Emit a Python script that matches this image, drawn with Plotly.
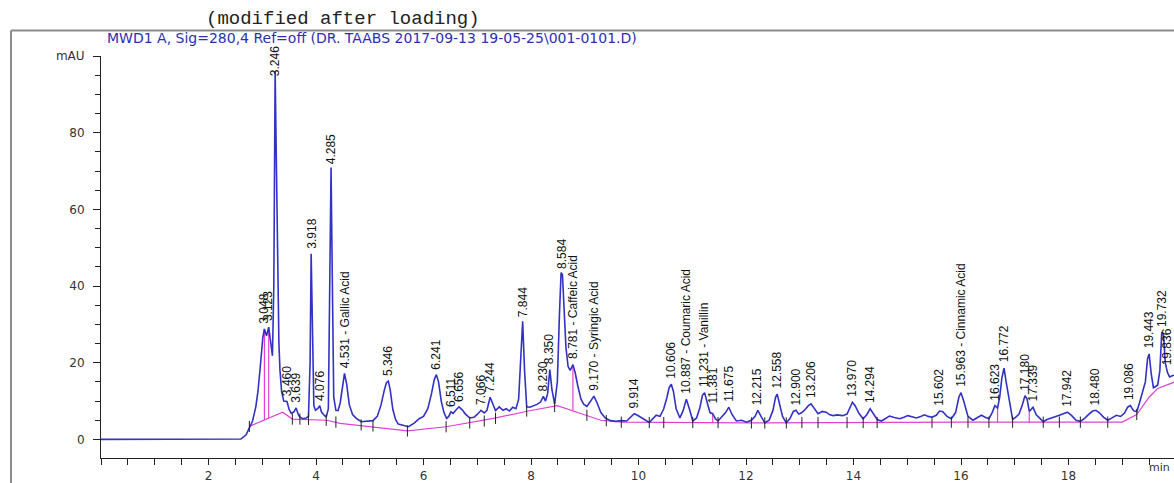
import plotly.graph_objects as go

# ---------------- data ----------------
time_min = [
    0.0, 2.60, 2.70, 2.76, 2.82, 2.88, 2.92, 2.97, 3.01, 3.04, 3.08, 3.12, 3.16, 3.19, 3.215, 3.24,
    3.265, 3.29, 3.31, 3.33, 3.36, 3.40, 3.46, 3.50, 3.54, 3.59, 3.63, 3.67, 3.70, 3.76, 3.82, 3.86,
    3.89, 3.91, 3.935, 3.96, 3.99, 4.03, 4.07, 4.10, 4.14, 4.19, 4.23, 4.255, 4.28, 4.305, 4.33, 4.37,
    4.41, 4.45, 4.49, 4.53, 4.57, 4.62, 4.68, 4.75, 4.84, 4.95, 5.06, 5.14, 5.21, 5.27, 5.31, 5.345,
    5.38, 5.43, 5.48, 5.53, 5.62, 5.72, 5.82, 5.92, 6.00, 6.08, 6.15, 6.20, 6.24, 6.28, 6.33, 6.38,
    6.43, 6.47, 6.51, 6.55, 6.60, 6.66, 6.72, 6.78, 6.86, 6.94, 7.00, 7.07, 7.13, 7.18, 7.24, 7.29,
    7.34, 7.41, 7.48, 7.54, 7.60, 7.66, 7.72, 7.77, 7.81, 7.845, 7.88, 7.92, 7.98, 8.05, 8.12, 8.18,
    8.23, 8.27, 8.31, 8.35, 8.39, 8.44, 8.49, 8.53, 8.56, 8.585, 8.61, 8.65, 8.69, 8.73, 8.78, 8.82,
    8.87, 8.93, 8.98, 9.04, 9.10, 9.17, 9.23, 9.30, 9.38, 9.48, 9.58, 9.68, 9.78, 9.86, 9.92, 9.98,
    10.06, 10.14, 10.20, 10.26, 10.33, 10.40, 10.47, 10.53, 10.57, 10.61, 10.65, 10.70, 10.77, 10.83, 10.89, 10.95,
    11.01, 11.08, 11.14, 11.19, 11.23, 11.28, 11.33, 11.38, 11.43, 11.48, 11.55, 11.62, 11.68, 11.74, 11.82, 11.92,
    12.01, 12.10, 12.17, 12.22, 12.28, 12.35, 12.43, 12.50, 12.55, 12.58, 12.62, 12.68, 12.75, 12.82, 12.88, 12.93,
    12.98, 13.04, 13.10, 13.16, 13.21, 13.27, 13.34, 13.42, 13.49, 13.56, 13.62, 13.70, 13.80, 13.88, 13.94, 13.98,
    14.03, 14.10, 14.18, 14.25, 14.31, 14.37, 14.44, 14.52, 14.60, 14.67, 14.76, 14.86, 14.94, 15.01, 15.09, 15.17,
    15.25, 15.32, 15.39, 15.46, 15.54, 15.60, 15.66, 15.74, 15.82, 15.90, 15.96, 16.00, 16.05, 16.13, 16.22, 16.30,
    16.38, 16.45, 16.52, 16.58, 16.63, 16.68, 16.72, 16.76, 16.80, 16.84, 16.90, 16.96, 17.02, 17.08, 17.14, 17.19,
    17.23, 17.27, 17.34, 17.40, 17.46, 17.53, 17.60, 17.67, 17.75, 17.83, 17.91, 17.98, 18.06, 18.14, 18.22, 18.30,
    18.38, 18.45, 18.51, 18.57, 18.65, 18.73, 18.81, 18.89, 18.97, 19.04, 19.10, 19.15, 19.21, 19.27, 19.32, 19.38,
    19.43, 19.47, 19.50, 19.54, 19.58, 19.62, 19.66, 19.70, 19.735, 19.77, 19.80, 19.84, 19.88, 19.93, 19.98,
]
signal_mau = [
    0.0, 0.1, 1.2, 3.0, 4.8, 8.5, 12.5, 20.0, 26.5, 28.8, 27.0, 29.3, 25.0, 21.8, 40.0, 96.0,
    70.0, 40.0, 25.0, 18.0, 12.5, 10.0, 9.9, 7.8, 6.8, 7.2, 8.2, 6.5, 5.8, 5.4, 5.6, 6.0,
    20.0, 48.4, 25.0, 8.8, 7.6, 8.0, 8.8, 7.2, 6.5, 5.8, 8.0, 40.0, 70.9, 40.0, 11.0, 7.6,
    7.5, 9.5, 14.0, 17.2, 14.5, 9.0, 6.5, 5.5, 4.6, 4.8, 4.9, 6.0, 9.0, 12.8, 14.8, 15.2,
    13.0, 7.8, 5.2, 4.0, 3.6, 3.3, 4.2, 5.4, 6.0, 8.0, 12.0, 15.6, 16.9, 15.0, 10.0, 7.0,
    5.5, 6.0, 7.2, 6.8, 7.6, 8.5, 7.7, 6.6, 5.6, 5.8, 6.5, 7.6, 6.9, 7.6, 11.0, 9.0,
    7.5, 8.5, 7.6, 8.0, 7.4, 8.4, 8.0, 10.5, 22.0, 30.8, 18.0, 8.5, 8.4, 8.8, 9.2, 9.8,
    11.2, 10.0, 12.0, 18.2, 13.0, 9.2, 15.0, 33.0, 43.5, 43.0, 36.0, 24.0, 19.0, 18.0, 19.5, 17.5,
    14.0, 10.5, 9.2, 8.6, 9.8, 11.3, 9.5, 7.0, 5.6, 4.9, 4.7, 4.9, 4.8, 6.0, 6.7, 6.3,
    5.6, 5.0, 4.4, 5.3, 6.3, 6.0, 8.0, 11.0, 13.5, 14.4, 12.5, 8.0, 5.6, 7.5, 10.5, 7.8,
    4.8, 5.6, 8.2, 11.5, 12.2, 9.5, 7.0, 6.7, 5.4, 4.8, 5.8, 7.0, 8.4, 6.5, 4.8, 5.0,
    4.5, 5.0, 6.0, 7.6, 6.0, 4.3, 5.0, 7.5, 11.0, 11.8, 9.5, 6.0, 4.3, 5.5, 7.3, 7.6,
    6.6, 7.0, 7.8, 8.8, 9.3, 8.0, 6.7, 7.3, 7.1, 6.4, 6.2, 6.4, 6.2, 6.6, 8.5, 9.7,
    8.8, 6.8, 5.4, 6.5, 8.0, 6.8, 5.2, 4.8, 5.4, 6.1, 5.7, 5.4, 5.8, 6.2, 5.9, 5.6,
    6.0, 6.4, 6.0, 5.8, 6.3, 7.4, 7.2, 6.0, 5.4, 7.0, 11.0, 12.2, 10.0, 6.0, 5.0, 5.6,
    6.3, 5.8, 5.4, 7.0, 8.8, 8.2, 11.0, 16.0, 18.6, 15.0, 10.0, 5.2, 5.8, 6.6, 9.0, 11.4,
    10.5, 7.3, 8.4, 6.4, 5.6, 4.6, 5.2, 5.6, 5.9, 6.3, 6.8, 7.1, 6.2, 5.0, 4.7, 5.5,
    6.6, 7.4, 7.6, 7.0, 5.8, 5.0, 5.6, 6.3, 6.0, 6.8, 8.4, 8.8, 7.5, 7.2, 9.5, 12.2,
    15.0, 21.0, 22.3, 17.0, 13.5, 13.8, 14.2, 18.0, 28.0, 27.0, 20.0, 17.5, 16.3, 16.6, 16.8,
]
assert len(time_min) == len(signal_mau)

# integration baseline (magenta)
baseline_t = [2.76, 3.38, 3.56, 4.20, 4.45, 5.70, 6.42, 7.30, 7.95, 8.49, 8.98, 9.30, 9.70, 12.00, 16.00, 19.00, 19.27, 19.50, 19.66, 19.98]
baseline_v = [3.4, 7.1, 5.3, 5.0, 4.2, 2.2, 3.3, 5.5, 7.4, 8.8, 6.5, 5.0, 4.5, 4.3, 4.5, 4.5, 6.5, 11.0, 13.3, 15.0]

# vertical drop lines (magenta)
drop_t = [3.04, 3.12, 8.78, 11.38, 16.68, 17.27]
drop_top = [28.8, 29.3, 19.5, 6.7, 8.2, 7.3]
drop_bottom = [5.1, 5.6, 7.6, 4.4, 4.5, 4.5]

# peak start/end markers (black ticks)
mark_t = [2.76, 3.56, 3.70, 3.86, 4.19, 4.37, 4.84, 5.06, 5.70, 6.42, 6.86, 7.13, 7.34, 7.92,
          8.44, 9.04, 9.40, 9.68, 10.20, 10.47, 11.01, 11.48, 12.10, 12.35, 12.75, 13.04, 13.34,
          13.88, 14.18, 14.44, 15.46, 15.82, 16.13, 16.52, 16.96, 17.53, 17.83, 18.22, 18.73, 19.27]
mark_v = [3.4, 5.3, 5.3, 5.2, 5.0, 4.5, 3.8, 3.5, 2.2, 3.3, 4.3, 4.8, 5.5, 7.4,
          8.6, 6.3, 4.9, 4.5, 4.4, 4.4, 4.4, 4.4, 4.3, 4.3, 4.3, 4.4, 4.4,
          4.4, 4.4, 4.4, 4.5, 4.5, 4.5, 4.5, 4.5, 4.5, 4.5, 4.5, 4.5, 6.5]

# peak labels
label_text = [
    "3.048", "3.123", "3.246", "3.460", "3.639", "3.918", "4.076", "4.285", "4.531 - Gallic Acid",
    "5.346", "6.241", "6.511", "6.656", "7.066", "7.244", "7.844", "8.230", "8.350", "8.584",
    "8.781 - Caffeic Acid", "9.170 - Syringic Acid", "9.914", "10.606", "10.887 - Coumaric Acid",
    "11.231 - Vanillin", "11.381", "11.675", "12.215", "12.558", "12.900", "13.206", "13.970",
    "14.294", "15.602", "15.963 - Cinnamic Acid", "16.623", "16.772", "17.180", "17.339",
    "17.942", "18.480", "19.086", "19.443", "19.732", "19.836",
]
label_t = [
    3.04, 3.12, 3.24, 3.46, 3.63, 3.91, 4.07, 4.28, 4.53,
    5.345, 6.24, 6.51, 6.66, 7.07, 7.24, 7.845, 8.23, 8.35, 8.585,
    8.78, 9.17, 9.92, 10.61, 10.89,
    11.23, 11.38, 11.68, 12.22, 12.58, 12.93, 13.21, 13.98,
    14.31, 15.60, 16.00, 16.63, 16.80, 17.19, 17.34,
    17.98, 18.51, 19.13, 19.50, 19.735, 19.84,
]
label_v = [
    29.5, 30.0, 94.0, 10.5, 8.8, 49.0, 9.2, 71.0, 17.8,
    15.8, 17.5, 7.8, 9.0, 8.2, 11.5, 31.0, 11.8, 18.8, 43.8,
    20.2, 12.0, 7.3, 15.0, 11.1,
    12.8, 8.5, 9.0, 8.2, 12.4, 8.2, 9.9, 10.3,
    8.6, 8.0, 12.8, 9.4, 19.2, 12.0, 9.0,
    7.7, 8.2, 9.4, 22.9, 28.6, 18.5,
]

y_tickvals = [0, 20, 40, 60, 80, 100]
y_ticktext = ["0", "20", "40", "60", "80", "mAU"]
x_tickvals = [2, 4, 6, 8, 10, 12, 14, 16, 18]

# ---------------- figure ----------------
W, H = 1174, 483
ML, MR, MT, MB = 101, 0, 56, 16
PW, PH = W - ML - MR, H - MT - MB


def px_to_paper_x(px):
    return (px - ML) / PW


def px_to_paper_y(py):
    return (H - MB - py) / PH


fig = go.Figure()

fig.add_trace(go.Scatter(x=baseline_t, y=baseline_v, mode="lines",
                         line=dict(color="#e040d8", width=1.2), hoverinfo="skip"))

dx, dy = [], []
for t, top, bot in zip(drop_t, drop_top, drop_bottom):
    dx += [t, t, None]
    dy += [top, bot, None]
fig.add_trace(go.Scatter(x=dx, y=dy, mode="lines",
                         line=dict(color="#e040d8", width=1.2), hoverinfo="skip"))

fig.add_trace(go.Scatter(x=time_min, y=signal_mau, mode="lines",
                         line=dict(color="#3232c4", width=1.6)))

fig.add_trace(go.Scatter(x=mark_t, y=mark_v, mode="markers",
                         marker=dict(symbol="line-ns", size=8,
                                     line=dict(width=1, color="#222222")),
                         hoverinfo="skip"))

label_font = dict(family="Liberation Sans, Arial", size=12, color="#111111")
for txt, t, v in zip(label_text, label_t, label_v):
    fig.add_annotation(x=t, y=v, xref="x", yref="y", text=txt, textangle=-90,
                       showarrow=False, xanchor="center", yanchor="bottom", yshift=1,
                       font=label_font)

# header texts
fig.add_annotation(x=px_to_paper_x(343), y=px_to_paper_y(18), xref="paper", yref="paper",
                   text="(modified after loading)", showarrow=False,
                   xanchor="center", yanchor="middle",
                   font=dict(family="Liberation Mono, DejaVu Sans Mono, monospace", size=19,
                             color="#222222"))
fig.add_annotation(x=px_to_paper_x(105), y=px_to_paper_y(38), xref="paper", yref="paper",
                   text="MWD1 A, Sig=280,4 Ref=off (DR. TAABS 2017-09-13 19-05-25\\001-0101.D)",
                   showarrow=False, xanchor="left", yanchor="middle",
                   font=dict(family="DejaVu Sans, Liberation Sans, Arial", size=14, color="#2e2eb4"))
fig.add_annotation(x=px_to_paper_x(1172), y=px_to_paper_y(477), xref="paper", yref="paper",
                   text="min", showarrow=False, xanchor="right", yanchor="middle",
                   font=dict(family="DejaVu Sans, Arial", size=11, color="#333333"))

# frame
frame_x = px_to_paper_x(11)
frame_y = px_to_paper_y(30)
fig.add_shape(type="line", xref="paper", yref="paper", x0=frame_x, x1=frame_x,
              y0=-0.2, y1=frame_y, line=dict(color="#8c8c8c", width=2))
fig.add_shape(type="line", xref="paper", yref="paper", x0=frame_x, x1=1.05,
              y0=frame_y, y1=frame_y, line=dict(color="#8c8c8c", width=2))

axis_font = dict(family="DejaVu Sans, Liberation Sans, Arial", size=12, color="#333333")
fig.update_layout(
    width=W, height=H,
    margin=dict(l=ML, r=MR, t=MT, b=MB, pad=0),
    paper_bgcolor="white", plot_bgcolor="white",
    showlegend=False,
    xaxis=dict(range=[0, PW / 53.75], showgrid=False, zeroline=False,
               showline=True, linecolor="#222222", linewidth=1,
               ticks="outside", ticklen=6, tickcolor="#222222", tickwidth=1,
               tickmode="array", tickvals=x_tickvals, tickfont=axis_font,
               ticklabelstandoff=1,
               minor=dict(dtick=0.5, tick0=0, ticks="outside", ticklen=6,
                          tickcolor="#222222", tickwidth=1, showgrid=False)),
    yaxis=dict(range=[-4.85, 100], showgrid=False, zeroline=False,
               showline=True, linecolor="#222222", linewidth=1,
               ticks="outside", ticklen=7, tickcolor="#222222", tickwidth=1,
               tickmode="array", tickvals=y_tickvals, ticktext=y_ticktext,
               tickfont=axis_font, ticklabelstandoff=6,
               minor=dict(dtick=5, tick0=0, ticks="outside", ticklen=5,
                          tickcolor="#222222", tickwidth=1, showgrid=False)),
)

fig.write_html("out.html")
